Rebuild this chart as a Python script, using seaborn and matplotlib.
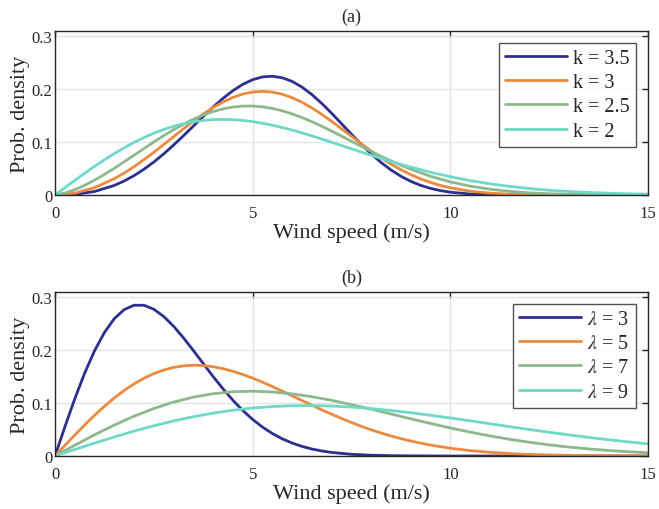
import numpy as np
import pandas as pd
import matplotlib
matplotlib.use("Agg")
import matplotlib.pyplot as plt
import seaborn as sns

# wind speed sample grids (m/s): coarse grid, plus finer ones where curves bend sharply
speed = np.arange(0, 15.01, 0.5)
speed_fine_mid = np.concatenate([np.arange(0, 1.01, 0.5), np.arange(1.5, 10.01, 0.25),
                                 np.arange(10.5, 15.01, 0.5)])
speed_fine_low = np.concatenate([np.arange(0, 7.01, 0.25), np.arange(7.5, 15.01, 0.5)])
speed_fine_wide = np.concatenate([np.arange(0, 9.01, 0.25), np.arange(9.5, 15.01, 0.5)])

# panel (a): shape factor k varies
k_labels = ["k = 3.5", "k = 3", "k = 2.5", "k = 2"]
pdf_k35 = [0, 0.00117, 0.0066,
           0.01809, 0.02645, 0.03663, 0.04864, 0.06239, 0.07773, 0.0944, 0.11206, 0.13028, 0.14853,
           0.16619, 0.18265, 0.19718, 0.20919, 0.21804, 0.22326, 0.22448, 0.22159, 0.2146, 0.20381,
           0.18976, 0.17295, 0.15427, 0.13462, 0.11478, 0.09554, 0.07754, 0.06135, 0.04725, 0.0354,
           0.02577, 0.0182, 0.01248, 0.00827, 0.00531,
           0.00197, 0.00063, 0.00017, 0.00004, 0, 0, 0, 0, 0, 0]
pdf_k3 = [0, 0.00347, 0.01383,
          0.03077, 0.04149, 0.05354, 0.0667, 0.08075, 0.09539, 0.11031, 0.12515, 0.13952, 0.153,
          0.16524, 0.17583, 0.18444, 0.1908, 0.19466, 0.19591, 0.19449, 0.19044, 0.18394, 0.17521,
          0.16457, 0.15237, 0.13909, 0.12506, 0.11083, 0.09668, 0.08307, 0.07025, 0.05844, 0.04783,
          0.0385, 0.03045, 0.02368, 0.01808, 0.01356,
          0.00721, 0.00355, 0.00162, 0.00067, 0.00026, 0.0001, 0.00003, 0, 0, 0]
pdf_k25 = [0, 0.00354, 0.01, 0.01831, 0.02803, 0.03884, 0.05048, 0.06269, 0.0752, 0.08779,
           0.10018, 0.11215, 0.12345, 0.13385, 0.14315, 0.15118, 0.15778, 0.16286, 0.16627, 0.16805,
           0.16815, 0.16664, 0.16357, 0.15907, 0.15328, 0.14636, 0.13851, 0.12987, 0.1207, 0.11119,
           0.1015, 0.09185, 0.08234, 0.07317, 0.06446, 0.05625, 0.04865,
           0.03543, 0.02484, 0.01678, 0.01092, 0.00683, 0.00411, 0.00238, 0.00133, 0.00071, 0.00036,
           0.00018, 0.00008]
pdf_k2 = [0, 0.01387, 0.02759, 0.04102, 0.05403, 0.06649, 0.07828, 0.08929, 0.09942, 0.1086,
          0.11675, 0.12383, 0.1298, 0.13465, 0.13836, 0.14098, 0.14249, 0.14296, 0.14245, 0.14101,
          0.13872, 0.13564, 0.13188, 0.1275, 0.12263, 0.11732, 0.11165, 0.10578, 0.09971, 0.09354,
          0.08733, 0.08118, 0.07511, 0.06919, 0.06347, 0.05795, 0.0527,
          0.04301, 0.03456, 0.0273, 0.0212, 0.01623, 0.0122, 0.00903, 0.00661, 0.00475, 0.00336,
          0.00234, 0.00161]

# panel (b): scale factor lambda varies
lam_labels = [r"$\lambda$ = 3", r"$\lambda$ = 5", r"$\lambda$ = 7", r"$\lambda$ = 9"]
pdf_l3 = [0, 0.05517, 0.10807, 0.15657, 0.19884, 0.23351, 0.2596, 0.27673, 0.28499, 0.28489,
          0.27745, 0.26376, 0.24525, 0.22334, 0.19943, 0.17468, 0.15023, 0.12694, 0.1054, 0.08604,
          0.06911, 0.05457, 0.04241, 0.03242, 0.02442, 0.0181, 0.01322, 0.0095, 0.00672,
          0.00322, 0.00145, 0.00062, 0.00025, 0.0001, 0, 0, 0, 0, 0, 0, 0, 0, 0, 0, 0]
pdf_l5 = [0, 0.01995, 0.0396, 0.05867, 0.07686, 0.09394, 0.10967, 0.12386, 0.13634, 0.147,
          0.15576, 0.16257, 0.16744, 0.17042, 0.17154, 0.17093, 0.16873, 0.16508, 0.16015, 0.15411,
          0.14715, 0.13946, 0.13121, 0.12258, 0.11373, 0.1048, 0.09595, 0.08726, 0.07888, 0.07085,
          0.06324, 0.0561, 0.04947, 0.04336, 0.03779, 0.03274, 0.0282,
          0.02056, 0.01466, 0.01021, 0.00696, 0.00464, 0.00302, 0.00193, 0.00121, 0.00074, 0.00044,
          0.00026, 0.00015]
pdf_l7 = [0, 0.0203, 0.03999, 0.05848, 0.07524, 0.08982, 0.1019, 0.11126, 0.11779, 0.12149,
          0.12253, 0.12109, 0.11747, 0.11202, 0.10511, 0.09712, 0.08845, 0.07941, 0.07033, 0.06148,
          0.05302, 0.04517, 0.038, 0.03158, 0.02593, 0.02103, 0.01686, 0.01336, 0.01047, 0.0081, 0.0062]
pdf_l9 = [0, 0.01231, 0.02439, 0.03602, 0.047, 0.05714, 0.06628, 0.07429, 0.08106, 0.08653,
          0.09068, 0.09348, 0.09499, 0.09526, 0.09439, 0.09247, 0.08964, 0.08602, 0.08175, 0.07698,
          0.07184, 0.06647, 0.06098, 0.05548, 0.05008, 0.04485, 0.03985, 0.03513, 0.03074, 0.0267, 0.02303]

colors = ["#2c2f8e", "#eb8a3f", "#8db88c", "#70d8c8"]


def long_form(labels, grids, series):
    parts = []
    for lab, xs, vals in zip(labels, grids, series):
        parts.append(pd.DataFrame({"speed": xs, "pdf": vals, "curve": lab}))
    return pd.concat(parts, ignore_index=True)


sns.set_theme(style="white")
plt.rcParams["font.family"] = ["Liberation Serif", "DejaVu Serif"]
plt.rcParams["mathtext.fontset"] = "stix"

fig = plt.figure(figsize=(6.59, 5.10), dpi=100)
ax_a = fig.add_axes([55 / 659, 1 - 196 / 510, 593 / 659, 164 / 510])
ax_b = fig.add_axes([55 / 659, 1 - 457 / 510, 593 / 659, 164 / 510])

df_a = long_form(k_labels, [speed_fine_mid, speed_fine_mid, speed_fine_wide, speed_fine_wide],
                 [pdf_k35, pdf_k3, pdf_k25, pdf_k2])
df_b = long_form(lam_labels, [speed_fine_low, speed_fine_wide, speed, speed],
                 [pdf_l3, pdf_l5, pdf_l7, pdf_l9])

for ax, df, labels, title in [(ax_a, df_a, k_labels, "(a)"), (ax_b, df_b, lam_labels, "(b)")]:
    sns.lineplot(data=df, x="speed", y="pdf", hue="curve", hue_order=labels,
                 palette=colors, linewidth=2.0, ax=ax)
    ax.set_xlim(0, 15)
    ax.set_ylim(0, 0.31)
    ax.set_xticks([0, 5, 10, 15])
    ax.set_yticks([0, 0.1, 0.2, 0.3])
    ax.set_xticklabels(["0", "5", "10", "15"])
    ax.set_yticklabels(["0", "0.1", "0.2", "0.3"])
    ax.grid(True, color="#e3e3e3", linewidth=1.0)
    ax.set_axisbelow(True)
    for sp in ax.spines.values():
        sp.set_color("#262626")
        sp.set_linewidth(1.0)
    ax.tick_params(direction="in", length=4, width=1.0, top=True, right=True,
                   labelsize=12, colors="#262626")
    ax.tick_params(axis="x", pad=7)
    ax.tick_params(axis="y", pad=2)
    ax.set_xlabel("Wind speed (m/s)", fontsize=16, labelpad=1, color="#262626")
    ax.set_ylabel("Prob. density", fontsize=16, labelpad=1, color="#262626")
    ax.set_title(title, fontsize=13, pad=7, color="#262626")
    leg = ax.legend(loc="upper right", fontsize=14.5, frameon=True, fancybox=False,
                    edgecolor="#262626", handlelength=3.1, handletextpad=0.3,
                    labelspacing=0.25, borderpad=0.3, borderaxespad=0.6)
    leg.get_frame().set_linewidth(1.0)
    for h in leg.get_lines():
        h.set_linewidth(2.0)

fig.savefig("out.png", dpi=100)
